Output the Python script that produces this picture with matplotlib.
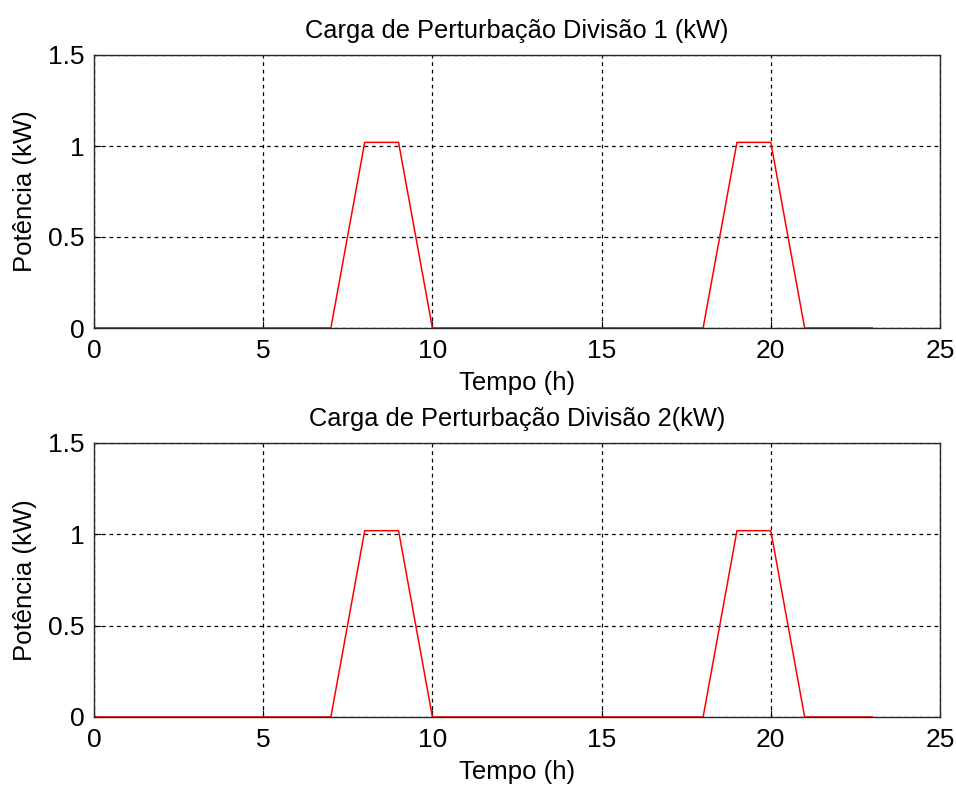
import matplotlib
matplotlib.use('Agg')
from matplotlib import pyplot as plt

plt.rcParams['font.family'] = ['Liberation Sans', 'DejaVu Sans']

# hourly disturbance load (kW), same for both divisions
hours = list(range(24))
carga_div1 = [0, 0, 0, 0, 0, 0, 0, 0, 1.02, 1.02, 0, 0,
              0, 0, 0, 0, 0, 0, 0, 1.02, 1.02, 0, 0, 0]
carga_div2 = [0, 0, 0, 0, 0, 0, 0, 0, 1.02, 1.02, 0, 0,
              0, 0, 0, 0, 0, 0, 0, 1.02, 1.02, 0, 0, 0]
titles = ['Carga de Perturbação Divisão 1 (kW)',
          'Carga de Perturbação Divisão 2(kW)']
xticks = [0, 5, 10, 15, 20, 25]
yticks = [0, 0.5, 1, 1.5]

W, H = 956, 787
fig = plt.figure(figsize=(W / 100, H / 100), dpi=100)

boxes = [(55, 328), (443, 717)]
for (top, bot), y, title in zip(boxes, [carga_div1, carga_div2], titles):
    ax = fig.add_axes([94 / W, 1 - bot / H, (940 - 94) / W, (bot - top) / H])
    ax.plot(hours, y, color='red', linewidth=1.1)
    ax.set_xlim(0, 25)
    ax.set_ylim(0, 1.5)
    ax.set_xticks(xticks)
    ax.set_yticks(yticks)
    ax.set_yticklabels(['0', '0.5', '1', '1.5'])
    ax.grid(True, color='black', linestyle=(0, (3, 3)), linewidth=0.9)
    ax.tick_params(direction='in', length=5, labelsize=19, width=0.8)
    ax.tick_params(axis='x', pad=8)
    ax.tick_params(axis='y', pad=7)
    for s in ax.spines.values():
        s.set_linewidth(1.0)
        s.set_color('#262626')
    ax.set_title(title, fontsize=18.3, pad=12)
    ax.set_xlabel('Tempo (h)', fontsize=18.5, labelpad=6)
    ax.set_ylabel('Potência (kW)', fontsize=18.5, labelpad=8)

fig.savefig('out.png', dpi=100)
